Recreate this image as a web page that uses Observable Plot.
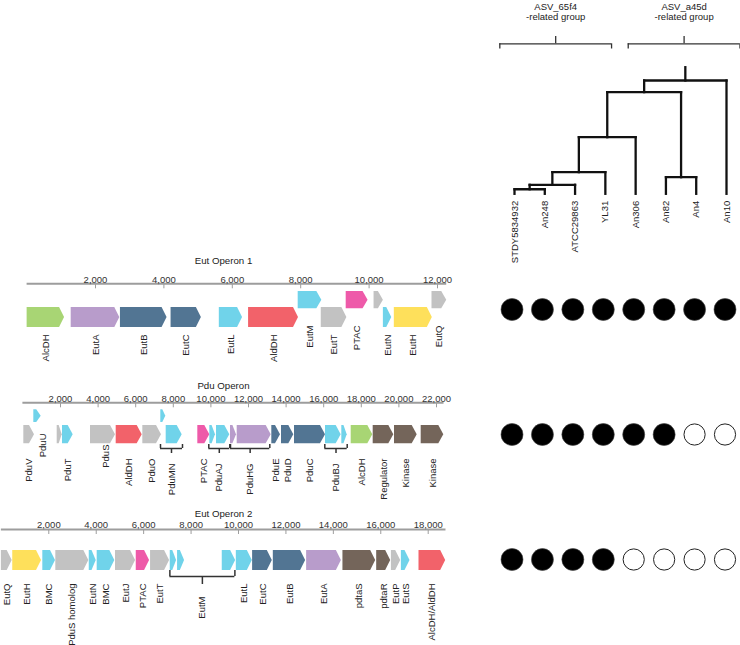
<!DOCTYPE html>
<html><head><meta charset="utf-8">
<script src="https://cdn.jsdelivr.net/npm/d3@7"></script>
<script src="https://cdn.jsdelivr.net/npm/@observablehq/plot@0.6"></script>
<style>
body{margin:0;background:#fff;}
#wrap{position:relative;width:740px;height:645px;overflow:hidden;font-family:"Liberation Sans",Arial,sans-serif;}
#wrap svg{position:absolute;}
</style></head><body><div id="wrap"></div>
<script>
// ---------- gene function categories ----------
const kinds = ["adh","react","lyase","bmc","aldh","ptac","other","eutH","reg"];
const kindColors = ["#a8d574","#b89ccb","#527593","#70d3ea","#f2626a","#ee5aa9","#c2c2c2","#fee05b","#74655a"];

// ---------- operons: [name, start bp, end bp, kind, lane, labelLevel] ----------
const eut1Genes = [
  ["AlcDH", 0, 1095, "adh", 0, 0],
  ["EutA", 1290, 2710, "react", 0, 0],
  ["EutB", 2730, 4093, "lyase", 0, 0],
  ["EutC", 4210, 5095, "lyase", 0, 0],
  ["EutL", 5620, 6300, "bmc", 0, 0],
  ["AldDH", 6476, 7936, "aldh", 0, 0],
  ["EutM", 7927, 8618, "bmc", 1, 1],
  ["EutT", 8600, 9350, "other", 0, 0],
  ["PTAC", 9330, 9970, "ptac", 1, 1],
  ["", 10145, 10418, "other", 1, 1],
  ["EutN", 10418, 10663, "bmc", 0, 0],
  ["EutH", 10738, 11848, "eutH", 0, 0],
  ["EutQ", 11840, 12270, "other", 1, 1]
];
const eut1Ticks = [2000, 4000, 6000, 8000, 10000, 12000];
const eut1Brackets = [];

const pduGenes = [
  ["PduV", 48, 617, "other", 0, 0],
  ["PduU", 580, 973, "bmc", 1, 2],
  ["", 1824, 2090, "other", 0, 0],
  ["PduT", 2106, 2675, "bmc", 0, 0],
  ["PduS", 3596, 4926, "other", 0, 1],
  ["AldDH", 4963, 6346, "aldh", 0, 0],
  ["PduO", 6378, 7372, "other", 0, 0],
  ["", 7335, 7601, "bmc", 1, 0],
  ["", 7622, 8473, "bmc", 0, 0],
  ["PTAC", 9303, 9941, "ptac", 0, 0],
  ["", 9941, 10245, "bmc", 0, 0],
  ["", 10298, 11005, "bmc", 0, 0],
  ["", 11043, 11362, "react", 0, 0],
  ["", 11399, 13207, "react", 0, 0],
  ["PduE", 13239, 13702, "lyase", 0, 0],
  ["PduD", 13755, 14410, "lyase", 0, 0],
  ["PduC", 14447, 16096, "lyase", 0, 0],
  ["", 16096, 16930, "bmc", 0, 0],
  ["", 16963, 17250, "bmc", 0, 0],
  ["AlcDH", 17463, 18612, "adh", 0, 0],
  ["Regulator", 18633, 19729, "reg", 0, 0],
  ["Kinase", 19766, 20973, "reg", 0, 0],
  ["Kinase", 21186, 22388, "reg", 0, 0]
];
const pduTicks = [2000, 4000, 6000, 8000, 10000, 12000, 14000, 16000, 18000, 20000, 22000];
const pduBrackets = [
  ["PduMN", 7319, 8489],
  ["PduAJ", 9888, 11005],
  ["PduHG", 11043, 13133],
  ["PduBJ", 16059, 17250]
];

const eut2Genes = [
  ["EutQ", 0, 456, "other", 0, 0],
  ["EutH", 481, 1692, "eutH", 0, 0],
  ["BMC", 1747, 2283, "bmc", 0, 0],
  ["PduS homolog", 2295, 3688, "other", 0, 0],
  ["EutN", 3705, 4000, "bmc", 0, 0],
  ["BMC", 4042, 4785, "bmc", 0, 0],
  ["EutJ", 4814, 5658, "other", 0, 0],
  ["PTAC", 5688, 6249, "ptac", 0, 0],
  ["EutT", 6291, 7093, "other", 0, 0],
  ["", 7122, 7388, "bmc", 0, 0],
  ["", 7430, 7726, "bmc", 0, 0],
  ["", 9316, 9878, "bmc", 0, 0],
  ["EutL", 9907, 10582, "bmc", 0, 0],
  ["EutC", 10595, 11426, "lyase", 0, 0],
  ["EutB", 11468, 12831, "lyase", 0, 0],
  ["EutA", 12873, 14338, "react", 0, 0],
  ["pdtaS", 14405, 15785, "reg", 0, 0],
  ["pdtaR", 15827, 16418, "reg", 0, 0],
  ["EutP", 16447, 16840, "other", 0, 0],
  ["EutS", 16869, 17232, "bmc", 0, 0],
  ["AlcDH/AldDH", 17612, 18738, "aldh", 0, 0]
];
const eut2Ticks = [2000, 4000, 6000, 8000, 10000, 12000, 14000, 16000, 18000];
const eut2Brackets = [["EutM", 7106, 9848]];

// ---------- strains / tree ----------
const strains = ["STDY5834932","An248","ATCC29863","YL31","An306","An82","An4","An10"];
// merges: [childA, childB, height]; node i is named "n"+(i+1)
const merges = [
  ["STDY5834932","An248",0.036],
  ["n1","ATCC29863",0.071],
  ["n2","YL31",0.171],
  ["n3","An306",0.447],
  ["An82","An4",0.131],
  ["n4","n5",0.803],
  ["n6","An10",0.895]
];
const rootHeight = 1.0;
const groupNames = ["ASV_65f4","ASV_a45d"];
const groupFirst = [0, 4];
const groupLast = [3, 7];

// ---------- presence of operons ----------
const operonNames = ["Eut Operon 1","Pdu Operon","Eut Operon 2"];
const presenceEut1 = [1,1,1,1,1,1,1,1];
const presencePdu  = [1,1,1,1,1,1,0,0];
const presenceEut2 = [1,1,1,1,0,0,0,0];

// ================= drawing =================
const wrap = document.getElementById("wrap");
const FONT = "Liberation Sans, Arial, sans-serif";
const baseStyle = {background:"transparent", overflow:"visible", fontFamily: FONT, fontSize:"9.5px"};
function place(el, left, top){ el.style.position="absolute"; el.style.left=left+"px"; el.style.top=top+"px"; wrap.appendChild(el); }

function operonPlot(o){
  const L = o.layout;
  const pxPerBp = (o.range[1]-o.range[0])/(o.domain[1]-o.domain[0]);
  const headBp = 5/pxPerBp;
  const gs = o.genes.map(([name,start,end,kind,lane,lvl],i)=>({name,start,end,kind,lane,lvl,id:i}));
  const pts = gs.flatMap(g=>{
    const [t,b] = L.lanes[g.lane];
    const m = (t+b)/2;
    const h = Math.min(headBp, (g.end-g.start)*0.6);
    return [
      {id:g.id, kind:g.kind, x:g.start, y1:t, y2:b},
      {id:g.id, kind:g.kind, x:g.end-h, y1:t, y2:b},
      {id:g.id, kind:g.kind, x:g.end, y1:m, y2:m}
    ];
  });
  const br = o.brackets.map(([name,a,b])=>({name,a,b,c:(a+b)/2}));
  const labelDxBp = (L.labelDx || []).map(px=>px/pxPerBp);
  const marks = [
    Plot.text([o.title], {frameAnchor:"top", dy:L.titleY, lineAnchor:"middle", fontSize:9.7, fill:"#222"}),
    Plot.ruleY([o.length], {x1:0, x2:d=>d, y:L.axisY, stroke:"#9d9d9d", strokeWidth:2}),
    Plot.ruleX(o.ticks, {x:d=>d, y1:L.axisY, y2:L.axisY+5, stroke:"#9d9d9d", strokeWidth:1}),
    Plot.text(o.ticks, {x:d=>d, y:L.axisY-4.3, text:d=>d3.format(",")(d), fontSize:9.5, fill:"#333", lineAnchor:"middle"}),
    Plot.areaY(pts, {x:"x", y1:"y1", y2:"y2", z:"id", fill:"kind"}),
    Plot.ruleY(br, {x1:"a", x2:"b", y:L.br[1], stroke:"#333", strokeWidth:1.5}),
    Plot.ruleX(br, {x:"a", y1:L.br[0], y2:L.br[1], stroke:"#333", strokeWidth:1.5}),
    Plot.ruleX(br, {x:"b", y1:L.br[0], y2:L.br[1], stroke:"#333", strokeWidth:1.5}),
    Plot.ruleX(br, {x:"c", y1:L.br[1], y2:L.br[2], stroke:"#333", strokeWidth:1.5}),
    Plot.text(gs.filter(g=>g.name), {x:g=>(g.start+g.end)/2 + (labelDxBp[g.lvl]||0), y:g=>L.labelY[g.lvl], text:"name", rotate:-90, textAnchor:"end", fontSize:9.5, fill:"#222"}),
    Plot.text(br, {x:"c", y:L.brLabelY, text:"name", rotate:-90, textAnchor:"end", fontSize:9.5, fill:"#222"})
  ];
  const el = Plot.plot({
    width:460, height:o.height, marginLeft:0, marginRight:14, marginTop:0, marginBottom:0,
    style: baseStyle,
    x:{domain:o.domain, range:o.range, axis:null},
    y:{domain:[0,o.height], range:[0,o.height], axis:null},
    color:{domain:kinds, range:kindColors},
    marks
  });
  place(el, 0, o.top);
}

operonPlot({title:"Eut Operon 1", genes:eut1Genes, ticks:eut1Ticks, brackets:eut1Brackets, length:12270,
  domain:[0,12000], range:[26.6,437], top:250, height:115,
  layout:{titleY:10, axisY:33.3, lanes:[[57,77],[41,58.3]], labelY:[84,75], br:[0,0,0], brLabelY:0}});
operonPlot({title:"Pdu Operon", genes:pduGenes, ticks:pduTicks, brackets:pduBrackets, length:22400,
  domain:[0,22000], range:[22.4,436], top:375, height:120,
  layout:{titleY:10, axisY:27.3, lanes:[[50,68.3],[34.3,47]], labelY:[83,69,58], labelDx:[0,3,5], br:[69,73,78], brLabelY:88}});
operonPlot({title:"Eut Operon 2", genes:eut2Genes, ticks:eut2Ticks, brackets:eut2Brackets, length:18750,
  domain:[0,18000], range:[0.87,427.7], top:500, height:145,
  layout:{titleY:13.3, axisY:29, lanes:[[50,70]], labelY:[83], br:[70,76,84], brLabelY:96}});

// ---- tree ----
(function(){
  const pos = {};
  strains.forEach((s,i)=>pos[s]={x:i,h:0});
  const segs = [];
  merges.forEach(([a,b,h],i)=>{
    const A=pos[a], B=pos[b];
    segs.push({x1:A.x,y1:A.h,x2:A.x,y2:h});
    segs.push({x1:B.x,y1:B.h,x2:B.x,y2:h});
    segs.push({x1:A.x,y1:h,x2:B.x,y2:h});
    pos["n"+(i+1)] = {x:(A.x+B.x)/2, h};
  });
  const root = pos["n"+merges.length];
  segs.push({x1:root.x,y1:root.h,x2:root.x,y2:rootHeight});
  const el = Plot.plot({
    width:250, height:260, margin:0, style:baseStyle,
    x:{domain:[0,7], range:[24,236], axis:null},
    y:{domain:[0,1], range:[193.3,66.7], axis:null},
    marks:[
      Plot.link(segs, {x1:"x1",y1:"y1",x2:"x2",y2:"y2", stroke:"#111", strokeWidth:2.3, strokeLinecap:"square"}),
      Plot.text(strains, {x:(d,i)=>i, y:0, dy:7, text:d=>d, rotate:-90, textAnchor:"end", fontSize:9.5, fill:"#222"})
    ]
  });
  place(el, 490, 0);

  // group brackets (drawn slightly wider than their member leaves)
  const pad = 0.345, shift = [-0.14, 0.1];
  const groups = groupNames.map((g,i)=>{
    const c = (groupFirst[i]+groupLast[i])/2 + shift[i];
    const half = (groupLast[i]-groupFirst[i])/2 + pad;
    return {name:g, a:c-half, b:c+half, c};
  });
  const el2 = Plot.plot({
    width:250, height:55, margin:0, style:baseStyle,
    x:{domain:[0,7], range:[24,236], axis:null},
    y:{domain:[0,55], range:[0,55], axis:null},
    marks:[
      Plot.text(groups, {x:"c", y:6.7, text:"name", fontSize:9.5, fill:"#222"}),
      Plot.text(groups, {x:"c", y:16.7, text:()=>"-related group", fontSize:9.5, fill:"#222"}),
      Plot.ruleY(groups, {x1:"a", x2:"b", y:43.3, stroke:"#333", strokeWidth:1.3}),
      Plot.ruleX(groups, {x:"a", y1:43.3, y2:48.5, stroke:"#333", strokeWidth:1.3}),
      Plot.ruleX(groups, {x:"b", y1:43.3, y2:48.5, stroke:"#333", strokeWidth:1.3}),
      Plot.ruleX(groups, {x:"c", y1:36, y2:43.3, stroke:"#333", strokeWidth:1.3})
    ]
  });
  place(el2, 490, 0);
})();

// ---- presence circles ----
(function(){
  const rows = [presenceEut1, presencePdu, presenceEut2];
  const cells = rows.flatMap((r,j)=>r.map((v,i)=>({i, op:operonNames[j], v})));
  const el = Plot.plot({
    width:250, height:300, margin:0, style:baseStyle,
    x:{domain:[0,7], range:[21.5,234.5], axis:null},
    y:{type:"point", domain:operonNames, range:[28.3,280], padding:0, axis:null},
    marks:[
      Plot.dot(cells.filter(c=>c.v), {x:"i", y:"op", r:11, fill:"#000", stroke:"#444", strokeWidth:0.6}),
      Plot.dot(cells.filter(c=>!c.v), {x:"i", y:"op", r:10.6, fill:"#fff", stroke:"#222", strokeWidth:1})
    ]
  });
  place(el, 490, 280);
})();
</script></body></html>
